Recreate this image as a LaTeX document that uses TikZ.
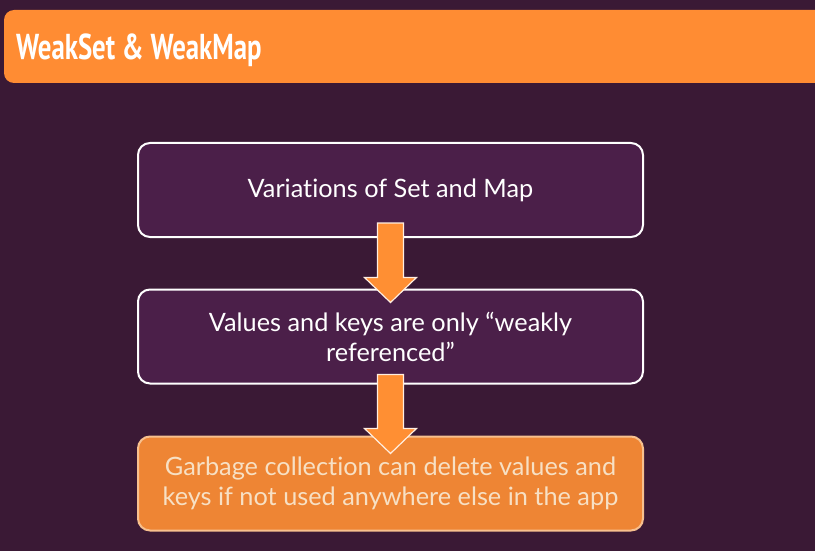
\documentclass[tikz,border=0pt]{standalone}
\usepackage{fontspec}
\setmainfont{Lato}[Ligatures={NoCommon}]
\newfontfamily\titlefont{PT Sans}
\usetikzlibrary{calc}
\definecolor{bgcol}{HTML}{3A1935}
\definecolor{boxfill}{HTML}{4B1F49}
\definecolor{titleorange}{HTML}{FF8C33}
\definecolor{gcfill}{HTML}{EE8534}
\definecolor{gcborder}{HTML}{F7C08E}
\definecolor{gctext}{HTML}{F7E0C4}
\definecolor{arrowfill}{HTML}{FF8F33}
\tikzset{
  stepbox/.style={draw=white, line width=2pt, fill=boxfill, rounded corners=12pt,
    minimum width=505pt, minimum height=94pt, align=center, text=white,
    font=\fontsize{25.3}{30}\selectfont},
  gcbox/.style={stepbox, draw=gcborder, fill=gcfill, text=gctext},
  blockarrow/.style={fill=arrowfill, draw=white!85!arrowfill, line width=1.2pt, line join=miter},
}
\begin{document}
\begin{tikzpicture}[x=1pt,y=-1pt]
\fill[bgcol] (0,0) rectangle (815,551);
\useasboundingbox (0,0) rectangle (815,551);
\fill[titleorange] (4,10) [rounded corners=10pt] rectangle (840,83);
\node[anchor=base west, text=white, font=\titlefont\bfseries\fontsize{36}{40}\selectfont, inner sep=0] (title) at (16,60) {\scalebox{0.745}[1]{WeakSet \& WeakMap}};

\node[stepbox] (b1) at (390.5,190) {Variations of Set and Map};
\node[stepbox] (b2) at (390.5,336.5) {Values and keys are only “weakly\\referenced”};
\node[gcbox] (b3) at (390.5,483.5) {Garbage collection can delete values and\\keys if not used anywhere else in the app};

% arrow b1 -> b2
\draw[blockarrow]
  ($(b1.south)+(-13,-15)$) -- ($(b2.north)+(-13,-11)$) -- ($(b2.north)+(-26,-11)$)
  -- ($(b2.north)+(0,14)$) -- ($(b2.north)+(26,-11)$) -- ($(b2.north)+(13,-11)$)
  -- ($(b1.south)+(13,-15)$) -- cycle;
% arrow b2 -> b3
\draw[blockarrow]
  ($(b2.south)+(-13,-10)$) -- ($(b3.north)+(-13,-7)$) -- ($(b3.north)+(-26,-7)$)
  -- ($(b3.north)+(0,18)$) -- ($(b3.north)+(26,-7)$) -- ($(b3.north)+(13,-7)$)
  -- ($(b2.south)+(13,-10)$) -- cycle;
\end{tikzpicture}
\end{document}
